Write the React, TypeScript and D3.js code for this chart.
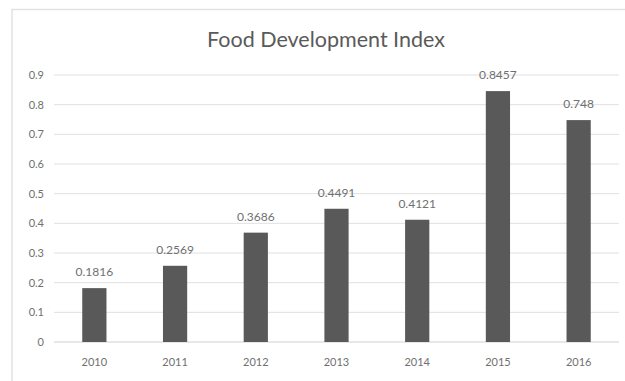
import React from "react";
import * as d3 from "d3";

const categories = ["2010", "2011", "2012", "2013", "2014", "2015", "2016"];
const values = [0.1816, 0.2569, 0.3686, 0.4491, 0.4121, 0.8457, 0.748];
const valueLabels = ["0.1816", "0.2569", "0.3686", "0.4491", "0.4121", "0.8457", "0.748"];
const yTicks = [0, 0.1, 0.2, 0.3, 0.4, 0.5, 0.6, 0.7, 0.8, 0.9];
const title = "Food Development Index";

export default function App() {
  const W = 625, H = 381;
  const left = 54, right = 619, top = 75, bottom = 342;
  const x = d3.scaleBand<string>().domain(categories).range([left, right]).paddingInner(0.7).paddingOuter(0.35);
  const y = d3.scaleLinear().domain([0, 0.9]).range([bottom, top]);
  const font = "Lato, 'Open Sans', sans-serif";
  const txt = "#707070";
  return (
    <svg width={W} height={H} style={{ position: "absolute", left: 0, top: 0, background: "#fff" }} fontFamily={font}>
      <rect x={12} y={9.5} width={W} height={H} fill="#fff" stroke="#e2e2e2" strokeWidth={1.5} />
      <text x={326} y={47} textAnchor="middle" fontSize={21.5} fill="#5a5a5a">{title}</text>
      {yTicks.map((t) => (
        <g key={t}>
          <line x1={left} x2={right} y1={y(t)} y2={y(t)} stroke={t === 0 ? "#d0d0d0" : "#e0e0e0"} strokeWidth={1} />
          <text x={44} y={y(t)} dy="0.35em" textAnchor="end" fontSize={11} fill={txt}>{d3.format("")(t)}</text>
        </g>
      ))}
      {categories.map((c, i) => (
        <g key={c}>
          <rect x={x(c)} y={y(values[i])} width={x.bandwidth()} height={bottom - y(values[i])} fill="#595959" />
          <text x={(x(c) as number) + x.bandwidth() / 2} y={y(values[i]) - 12} textAnchor="middle" fontSize={12} fill={txt}>{valueLabels[i]}</text>
          <text x={(x(c) as number) + x.bandwidth() / 2} y={362} dy="0.35em" textAnchor="middle" fontSize={11} fill={txt}>{c}</text>
        </g>
      ))}
    </svg>
  );
}
